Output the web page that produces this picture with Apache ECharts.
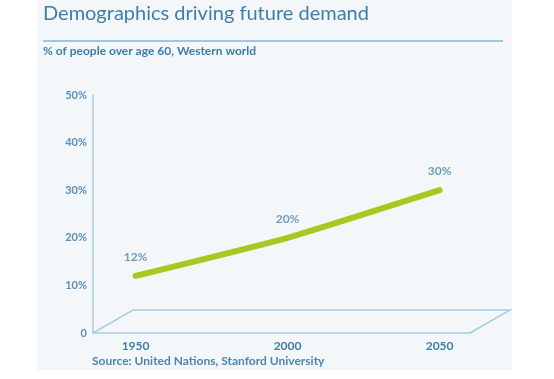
<!DOCTYPE html>
<html><head><meta charset="utf-8">
<script src="https://cdn.jsdelivr.net/npm/echarts@6/dist/echarts.min.js"></script>
<style>html,body{margin:0;padding:0;background:#fff}#c{width:554px;height:379px}</style>
</head><body><div id="c"></div>
<script>
const years = [1950, 2000, 2050];
const shares = [12, 20, 30];
const yTicks = [0, 10, 20, 30, 40, 50];
const titleText = 'Demographics driving future demand';
const subtitleText = '% of people over age 60, Western world';
const sourceText = 'Source: United Nations, Stanford University';

const blue = '#3f7eaa';
const axisBlue = '#a6cde2';
const chart = echarts.init(document.getElementById('c'), null, {renderer: 'canvas'});
const font = 'Lato, "Open Sans", sans-serif';
const points = years.map((y, i) => [y, shares[i]]);

const option = {
  backgroundColor: '#ffffff',
  animation: false,
  grid: {left: 93, right: 84, top: 95, bottom: 46},
  xAxis: {
    type: 'value', min: 1936, max: 2060,
    splitLine: {show: false},
    axisLine: {show: true, lineStyle: {color: axisBlue, width: 1.5}},
    axisTick: {show: false},
    axisLabel: {customValues: years, formatter: v => String(v), color: blue, fontSize: 12, fontWeight: 'bold', fontFamily: font, margin: 7}
  },
  yAxis: {
    type: 'value', min: 0, max: 50, interval: 10,
    splitLine: {show: false},
    axisLine: {show: true, lineStyle: {color: axisBlue, width: 1.5}},
    axisTick: {show: false},
    axisLabel: {customValues: yTicks, color: '#5a90bb', fontSize: 11, fontWeight: 'bold', fontFamily: font, margin: 6,
      formatter: v => v === 0 ? '0' : v + '%'}
  },
  series: [{
    type: 'line',
    data: points,
    smooth: 0.15,
    symbol: 'none',
    lineStyle: {color: '#a6c81f', width: 6, cap: 'round', join: 'round'}
  }, {
    type: 'scatter',
    data: points,
    symbolSize: 2,
    itemStyle: {color: 'rgba(166,200,31,0)'},
    label: {show: true, position: 'top', distance: 12, formatter: p => p.value[1] + '%',
      color: '#4a86b0', fontSize: 12, fontWeight: 'bold', fontFamily: font}
  }]
};
chart.setOption(option);

const origin = chart.convertToPixel({gridIndex: 0}, [1936, 0]);
const right = chart.convertToPixel({gridIndex: 0}, [2060, 0]);
const dx = 40, dy = -23;

chart.setOption({
  graphic: [
    {type: 'rect', z: -10, shape: {x: 37, y: 0, width: 475, height: 370}, style: {fill: '#f3f7fa'}},
    {type: 'text', left: 43, top: 4, style: {text: titleText, fill: blue, fontSize: 20, fontFamily: font}},
    {type: 'line', shape: {x1: 43, y1: 41, x2: 503, y2: 41}, style: {stroke: '#9cc7dc', lineWidth: 2}},
    {type: 'text', left: 43, top: 45, style: {text: subtitleText, fill: blue, fontSize: 12, fontWeight: 'bold', fontFamily: font}},
    {type: 'polyline', shape: {points: [origin, [origin[0] + dx, origin[1] + dy], [right[0] + dx, right[1] + dy], right]},
      style: {stroke: axisBlue, lineWidth: 1.5, fill: null}},
    {type: 'text', left: 92, top: 355, style: {text: sourceText, fill: '#4a86b0', fontSize: 12, fontWeight: 'bold', fontFamily: font}}
  ]
});
</script></body></html>
